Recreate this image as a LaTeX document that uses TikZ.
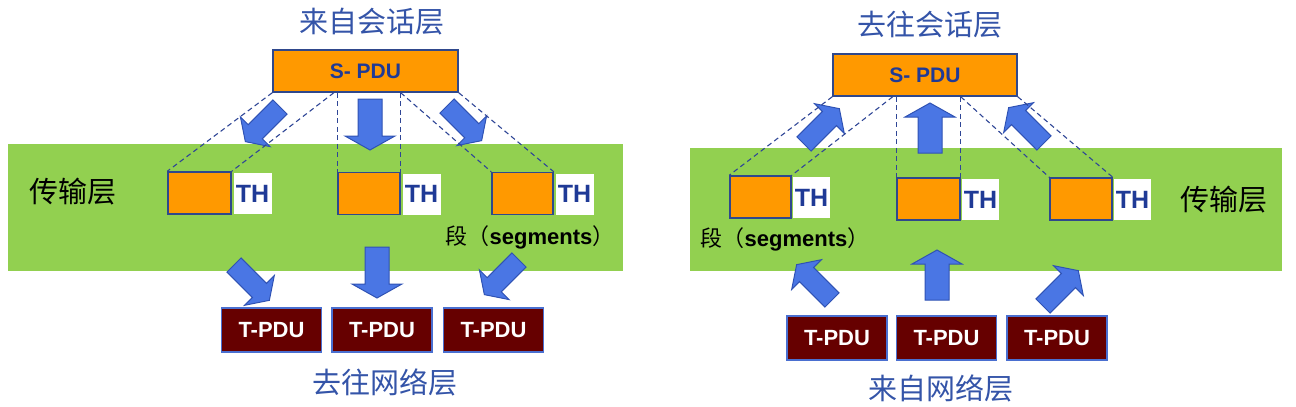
\documentclass[tikz,border=0pt]{standalone}
\usepackage{fontspec}
\usetikzlibrary{calc}
\setmainfont{Liberation Sans}
\newfontfamily\cjk{Noto Sans CJK SC}
\definecolor{titleblue}{RGB}{52,84,168}
\definecolor{thblue}{RGB}{31,58,150}
\definecolor{orangefill}{RGB}{255,153,0}
\definecolor{boxedge}{RGB}{47,72,140}
\definecolor{greenband}{RGB}{146,208,80}
\definecolor{darkred}{RGB}{102,0,0}
\definecolor{tpduedge}{RGB}{74,111,208}
\definecolor{arrowfill}{RGB}{74,118,228}
\definecolor{arrowedge}{RGB}{47,82,180}
\definecolor{dashblue}{RGB}{47,70,150}
\newcommand{\blockarr}[6]{%
  \begin{scope}[shift={(#1,#2)},rotate=#3]
    \draw[barrowsty] (0,-#5) -- ({#4-14},-#5) -- ({#4-14},-#6) -- (#4,0) -- ({#4-14},#6) -- ({#4-14},#5) -- (0,#5) -- cycle;
  \end{scope}}
\begin{document}
\begin{tikzpicture}[x=1pt,y=-1pt,
  spdu/.style={draw=boxedge, line width=1.5pt, fill=orangefill, minimum width=185pt, minimum height=42pt, inner sep=0pt, font=\fontsize{21}{24}\selectfont\bfseries, text=thblue},
  segbox/.style={draw=boxedge, line width=1.5pt, fill=orangefill, minimum width=62pt, minimum height=42pt, inner sep=0pt},
  thbox/.style={fill=white, minimum width=38pt, minimum height=41pt, inner sep=0pt, font=\fontsize{25}{28}\selectfont\bfseries, text=thblue},
  tpdu/.style={draw=tpduedge, line width=1.2pt, fill=darkred, minimum width=100pt, minimum height=44pt, inner sep=0pt, text=white, font=\fontsize{22}{24}\selectfont\bfseries},
  titletext/.style={font=\cjk\fontsize{29}{32}\selectfont, text=titleblue, inner sep=0pt},
  layertext/.style={font=\cjk\fontsize{29}{32}\selectfont, text=black, inner sep=0pt},
  seglabel/.style={font=\fontsize{22}{24}\selectfont, text=black, inner sep=0pt},
  dashline/.style={draw=dashblue, line width=1.1pt, dash pattern=on 5pt off 3.5pt},
  barrowsty/.style={fill=arrowfill, draw=arrowedge, line width=1pt, line join=miter}]
\useasboundingbox (0,0) rectangle (1296,407);

% ---------------- LEFT PANEL ----------------
\fill[greenband] (8,144) rectangle (623,271);
\node[titletext] (tL) at (372,21.5) {来自会话层};
\node[spdu] (spL) at (365.5,71) {S- PDU};
\node[segbox, minimum width=63pt] (bL1) at (199.5,193) {};
\node[segbox] (bL2) at (369,193.5) {};
\node[segbox, minimum width=61pt] (bL3) at (522.5,193.5) {};
\node[thbox] (hL1) at (252.5,193.5) {TH};
\node[thbox] (hL2) at (421.5,194) {TH};
\node[thbox] (hL3) at (574.5,194) {TH};
\node[layertext] (lyL) at (72.5,192) {传输层};
\node[seglabel] (sgL) at (530,237) {{\cjk 段（}\textbf{segments}{\cjk ）}};
\node[tpdu] (pL1) at (271.5,330) {T-PDU};
\node[tpdu] (pL2) at (382,330) {T-PDU};
\node[tpdu] (pL3) at (493.5,330) {T-PDU};
\node[titletext] (nL) at (385,382) {去往网络层};

\blockarr{280}{107}{-135}{49}{10}{21}
\blockarr{370}{99}{-90}{51}{12}{25}
\blockarr{447}{106}{-45}{49}{10}{21}
\blockarr{234}{265}{-45}{50}{10}{21}
\blockarr{377}{247}{-90}{51}{12}{25}
\blockarr{519}{260}{-135}{49}{10}{21}

\draw[dashline] (spL.south west) -- (bL1.north west);
\draw[dashline] ($(spL.south west)!0.33!(spL.south east)$) -- (bL1.north east);
\draw[dashline] (bL2.north west |- spL.south) -- (bL2.north west);
\draw[dashline] (bL2.north east |- spL.south) -- (bL2.north east);
\draw[dashline] (bL2.north east |- spL.south) -- (bL3.north west);
\draw[dashline] (spL.south east) -- (bL3.north east);

% ---------------- RIGHT PANEL ----------------
\fill[greenband] (690,148) rectangle (1282,271);
\node[titletext] (tR) at (930,25) {去往会话层};
\node[spdu, minimum width=184pt] (spR) at (925,75) {S- PDU};
\node[segbox, minimum width=61pt] (bR1) at (760.5,197) {};
\node[segbox, minimum width=63pt] (bR2) at (928.5,199) {};
\node[segbox] (bR3) at (1081,199) {};
\node[thbox, minimum width=37pt] (hR1) at (811.5,197.5) {TH};
\node[thbox, minimum width=37pt] (hR2) at (980.5,199.5) {TH};
\node[thbox, minimum width=37pt] (hR3) at (1132.5,199.5) {TH};
\node[layertext] (lyR) at (1224,200) {传输层};
\node[seglabel] (sgR) at (785,239) {{\cjk 段（}\textbf{segments}{\cjk ）}};
\node[tpdu] (pR1) at (837,338) {T-PDU};
\node[tpdu] (pR2) at (946.5,338) {T-PDU};
\node[tpdu] (pR3) at (1057,338) {T-PDU};
\node[titletext] (nR) at (941,388) {来自网络层};

\blockarr{804}{144}{45}{50}{10}{21}
\blockarr{930}{153}{90}{50}{12}{25}
\blockarr{1044}{143}{135}{50}{10}{21}
\blockarr{832}{300}{135}{50}{10}{21}
\blockarr{937}{300}{90}{50}{12}{25}
\blockarr{1043}{306}{45}{50}{10}{21}

\draw[dashline] (spR.south west) -- (bR1.north west);
\draw[dashline] ($(spR.south west)!0.326!(spR.south east)$) -- (bR1.north east);
\draw[dashline] (bR2.north west |- spR.south) -- (bR2.north west);
\draw[dashline] (bR2.north east |- spR.south) -- (bR2.north east);
\draw[dashline] (bR2.north east |- spR.south) -- (bR3.north west);
\draw[dashline] (spR.south east) -- (bR3.north east);
\end{tikzpicture}
\end{document}
